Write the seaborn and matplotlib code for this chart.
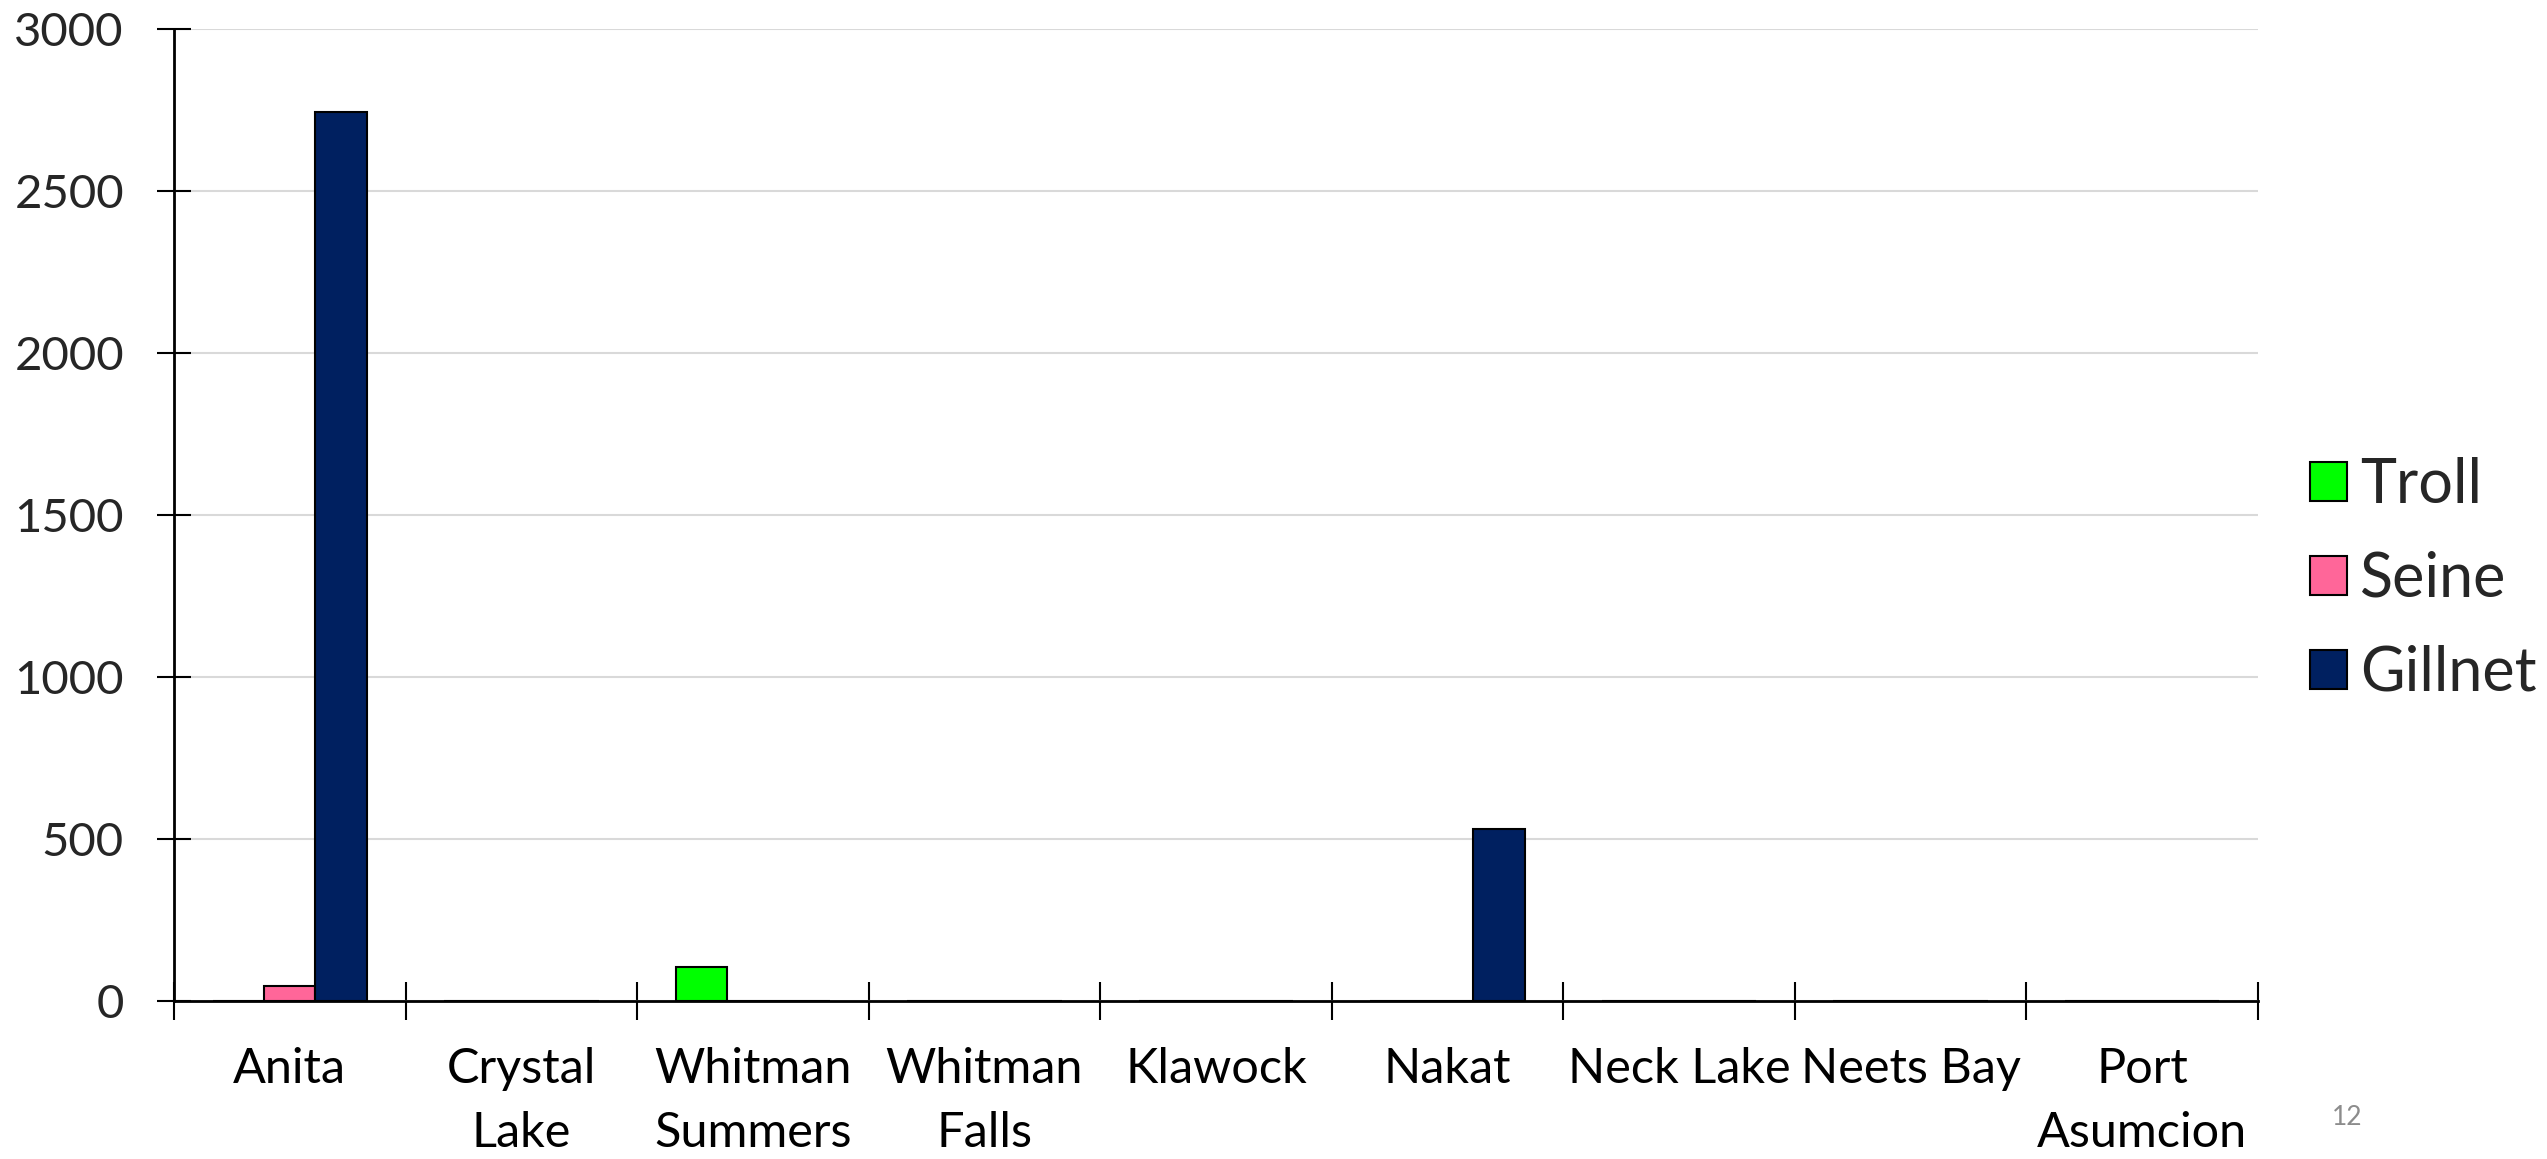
import pandas as pd
import seaborn as sns
import matplotlib.pyplot as plt

# values
lakes = ["Anita", "Crystal\nLake", "Whitman\nSummers", "Whitman\nFalls", "Klawock",
         "Nakat", "Neck Lake", "Neets Bay", "Port\nAsumcion"]
troll = [0, 0, 105, 0, 0, 0, 0, 0, 0]
seine = [45, 0, 0, 0, 0, 0, 0, 0, 0]
gillnet = [2745, 0, 0, 0, 0, 530, 0, 0, 0]
gears = ["Troll", "Seine", "Gillnet"]
colors = ["#00FF00", "#FF6699", "#002060"]

df = pd.DataFrame({"Lake": lakes, "Troll": troll, "Seine": seine, "Gillnet": gillnet})
long = df.melt(id_vars="Lake", var_name="Gear", value_name="Count")

sns.set_theme(style="white")
plt.rcParams["font.family"] = ["Lato", "DejaVu Sans"]

fig = plt.figure(figsize=(25.47, 11.59), dpi=100)
ax = fig.add_axes([0.0683, 0.1363, 0.8182, 0.8387])

sns.barplot(data=long, x="Lake", y="Count", hue="Gear", hue_order=gears,
            palette=colors, width=0.667, edgecolor="black", linewidth=1.5,
            saturation=1, ax=ax, legend=False)

ax.set_xlim(-0.5, 8.5)
ax.set_ylim(0, 3000)
ax.set_yticks([0, 500, 1000, 1500, 2000, 2500, 3000])
ax.yaxis.grid(True, color="#d9d9d9", linewidth=1.5)
ax.set_axisbelow(True)
ax.set_xlabel("")
ax.set_ylabel("")

for s in ["top", "right"]:
    ax.spines[s].set_visible(False)
for s in ["left", "bottom"]:
    ax.spines[s].set_color("black")
    ax.spines[s].set_linewidth(2)

# category labels between boundary ticks, like Excel
ax.set_xticks(range(len(lakes)))
ax.set_xticklabels(lakes, linespacing=1.55)
ax.set_xticks([i - 0.5 for i in range(len(lakes) + 1)], minor=True)
ax.tick_params(axis="x", which="major", length=0, pad=33, labelsize=35, colors="black")
ax.tick_params(axis="x", which="minor", direction="inout", length=28, width=1.5,
               color="black", bottom=True)
ax.tick_params(axis="y", direction="inout", length=24, width=1.5, color="black",
               pad=24, labelsize=34, left=True)
for lbl in ax.get_xticklabels():
    lbl.set_verticalalignment("top")

handles = [plt.Rectangle((0, 0), 1, 1, facecolor=c, edgecolor="black", linewidth=1.5)
           for c in colors]
fig.legend(handles, gears, loc="center left", bbox_to_anchor=(0.8855, 0.5),
           frameon=False, fontsize=44, handlelength=0.6, handleheight=0.6,
           handletextpad=0.22, labelspacing=0.6)

fig.text(0.9215, 0.036, "12", color="#8c8c8c", fontsize=19, ha="center", va="center")

plt.savefig("out.png", dpi=100)
